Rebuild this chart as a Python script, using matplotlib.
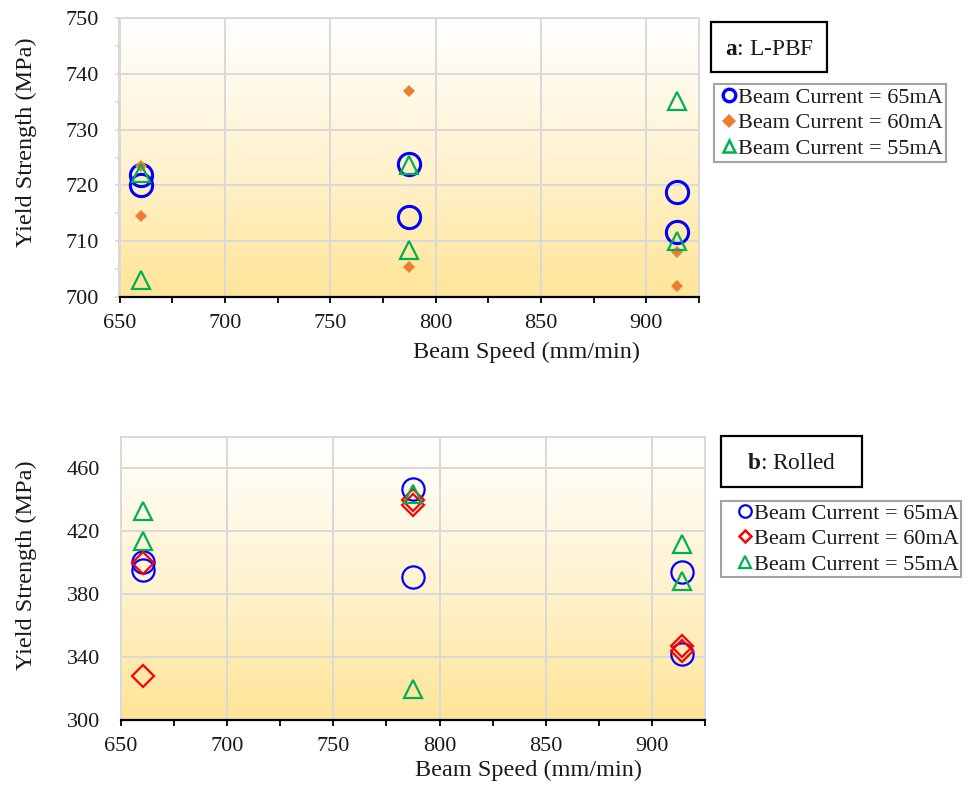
import matplotlib
matplotlib.use("Agg")
import matplotlib.pyplot as plt
from matplotlib.lines import Line2D
from matplotlib.patches import Rectangle
from matplotlib.colors import LinearSegmentedColormap
from matplotlib.ticker import MultipleLocator
import numpy as np

plt.rcParams['font.family'] = ['Liberation Serif', 'DejaVu Serif']
plt.rcParams['mathtext.fontset'] = 'custom'
plt.rcParams['mathtext.rm'] = 'Liberation Serif'
plt.rcParams['mathtext.bf'] = 'Liberation Serif:bold'

# beam speeds (26, 31, 36 in/min), two builds each
speed = [660.4, 660.4, 787.4, 787.4, 914.4, 914.4]

# yield strength, L-PBF parts (MPa)
lpbf_65 = [721.9, 720.0, 723.8, 714.3, 718.8, 711.6]
lpbf_60 = [723.4, 714.6, 736.9, 705.3, 708.1, 701.9]
lpbf_55 = [722.3, 703.1, 723.7, 708.5, 735.1, 710.0]

# yield strength, rolled parts (MPa)
rolled_65 = [400.5, 395.3, 446.8, 391.0, 394.0, 341.8]
rolled_60 = [399.6, 328.0, 440.0, 436.5, 347.2, 343.9]
rolled_55 = [433.0, 413.5, 443.5, 319.5, 411.5, 388.5]

labels = ['Beam Current = 65mA', 'Beam Current = 60mA', 'Beam Current = 55mA']

BLUE = '#0000FF'
ORANGE = '#ED7D31'
GREEN = '#00B050'
RED = '#FF0000'
GRID = '#D9D9D9'
TXT = '#1a1a1a'

W, H = 978, 789
fig = plt.figure(figsize=(W / 100, H / 100), dpi=100)

def px_box(x0, y0, x1, y1):
    return [x0 / W, 1 - y1 / H, (x1 - x0) / W, (y1 - y0) / H]

ax1 = fig.add_axes(px_box(119.5, 18, 699, 297))
ax2 = fig.add_axes(px_box(121, 436.5, 705, 720))

fill = LinearSegmentedColormap.from_list('fill', ['#FFE597', '#FFF3D2', '#FFFFFF'])

def style(ax, ylim, ymajor, yminor, ytick_len):
    grad = np.linspace(0, 1, 256).reshape(-1, 1)
    ax.imshow(grad, cmap=fill, aspect='auto', extent=[0, 1, 0, 1],
              transform=ax.transAxes, origin='lower', zorder=0,
              interpolation='bicubic')
    ax.set_xlim(650, 925)
    ax.set_ylim(*ylim)
    ax.xaxis.set_major_locator(MultipleLocator(50))
    ax.xaxis.set_minor_locator(MultipleLocator(25))
    ax.set_yticks(ymajor)
    if yminor is not None:
        ax.yaxis.set_minor_locator(MultipleLocator(yminor))
    ax.grid(True, which='major', color=GRID, lw=1.4, zorder=1)
    ax.set_axisbelow(True)
    for s in ['top', 'right', 'left']:
        ax.spines[s].set_color(GRID)
        ax.spines[s].set_linewidth(1.4)
    ax.spines['bottom'].set_color('black')
    ax.spines['bottom'].set_linewidth(1.6)
    ax.tick_params(axis='x', which='both', direction='out', length=4,
                   width=1.3, color='black', labelsize=16, labelcolor=TXT, pad=8.5)
    ax.tick_params(axis='y', which='both', direction='out', length=ytick_len,
                   width=1.2, color=GRID, labelsize=16, labelcolor=TXT,
                   pad=15 - ytick_len)
    ax.set_xlabel('Beam Speed (mm/min)', fontsize=17.5, color=TXT)
    ax.set_ylabel('Yield Strength (MPa)', fontsize=17.5, color=TXT)


style(ax1, (700, 750), [700, 710, 720, 730, 740, 750], 5, 3)
style(ax2, (300, 480), [300, 340, 380, 420, 460], None, 0)

ax1.xaxis.set_label_coords(0.703, -0.160)
ax1.yaxis.set_label_coords(-0.142, 0.556)
ax2.xaxis.set_label_coords(0.697, -0.140)
ax2.yaxis.set_label_coords(-0.143, 0.547)

# L-PBF panel
ax1.plot(speed, lpbf_65, ls='none', marker='o', ms=16, mfc='none',
         mec=BLUE, mew=2.2, zorder=3)
ax1.plot(speed, lpbf_60, ls='none', marker='D', ms=6.3, mfc=ORANGE,
         mec=ORANGE, mew=0, zorder=3)
ax1.plot(speed, lpbf_55, ls='none', marker='^', ms=13, mfc='none',
         mec=GREEN, mew=1.6, zorder=4)

# rolled panel
ax2.plot(speed, rolled_65, ls='none', marker='o', ms=16, mfc='none',
         mec=BLUE, mew=1.6, zorder=3)
ax2.plot(speed, rolled_60, ls='none', marker='D', ms=11, mfc='none',
         mec=RED, mew=1.6, zorder=3)
ax2.plot(speed, rolled_55, ls='none', marker='^', ms=13, mfc='none',
         mec=GREEN, mew=1.6, zorder=4)

top_handles = [
    Line2D([], [], ls='none', marker='o', ms=9, mfc='none', mec=BLUE, mew=2.4),
    Line2D([], [], ls='none', marker='D', ms=7, mfc=ORANGE, mec=ORANGE, mew=0),
    Line2D([], [], ls='none', marker='^', ms=9, mfc='none', mec=GREEN, mew=1.8),
]
bot_handles = [
    Line2D([], [], ls='none', marker='o', ms=9, mfc='none', mec=BLUE, mew=1.6),
    Line2D([], [], ls='none', marker='D', ms=6.5, mfc='none', mec=RED, mew=1.8),
    Line2D([], [], ls='none', marker='^', ms=9, mfc='none', mec=GREEN, mew=1.6),
]

leg1 = ax1.legend(top_handles, labels, loc='upper left',
                  bbox_to_anchor=(713.5 / W, 1 - 84 / H),
                  bbox_transform=fig.transFigure, fontsize=16,
                  frameon=True, fancybox=False, borderaxespad=0,
                  borderpad=0.15, handlelength=1.05, handletextpad=-0.12,
                  labelspacing=0.22)
leg2 = ax2.legend(bot_handles, labels, loc='upper left',
                  bbox_to_anchor=(721 / W, 1 - 501 / H),
                  bbox_transform=fig.transFigure, fontsize=16,
                  frameon=True, fancybox=False, borderaxespad=0,
                  borderpad=0.1, handlelength=2.0, handletextpad=-0.6,
                  labelspacing=0.22)
for leg in (leg1, leg2):
    leg.get_frame().set_edgecolor('#8C8C8C')
    leg.get_frame().set_linewidth(1.5)
    for t in leg.get_texts():
        t.set_color(TXT)

# panel tags
for (x0, y0, x1, y1), tag in [((711, 22, 827, 72), r'$\mathbf{a}$: L-PBF'),
                              ((721, 436, 862, 487), r'$\mathbf{b}$: Rolled')]:
    fig.add_artist(Rectangle((x0 / W, 1 - y1 / H), (x1 - x0) / W, (y1 - y0) / H,
                             transform=fig.transFigure, fill=False,
                             ec='black', lw=1.6))
    fig.text((x0 + x1) / 2 / W, 1 - ((y0 + y1) / 2 + 7.6) / H, tag,
             ha='center', va='baseline', fontsize=16.8, color=TXT)

fig.savefig('out.png', dpi=100)
